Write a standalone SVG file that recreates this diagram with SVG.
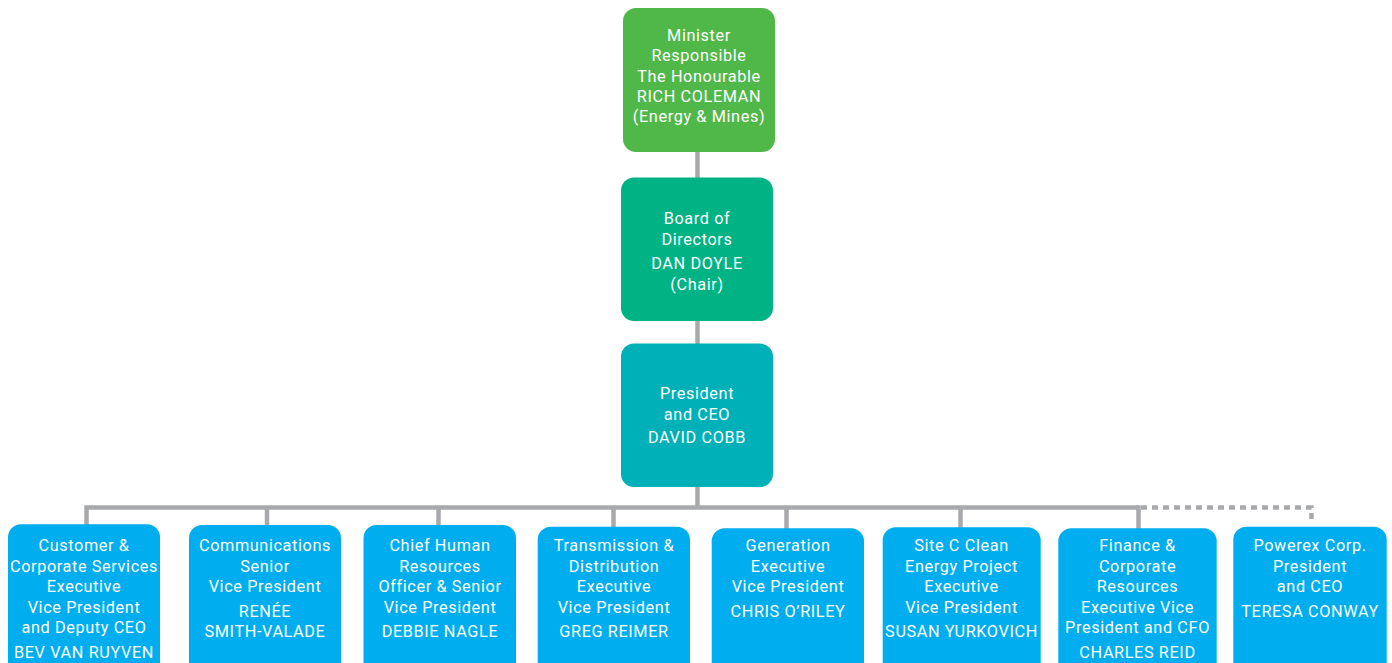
<svg xmlns="http://www.w3.org/2000/svg" width="1392" height="663" viewBox="0 0 1392 663">
<style>
text{font-family:Roboto,"Liberation Sans",sans-serif;font-size:16.3px;font-weight:400;letter-spacing:0.6px;fill:#fff;text-anchor:middle}
.ln{stroke:#a7a9ac;stroke-width:4.5;fill:none}
.dt{stroke:#a7a9ac;stroke-width:4.5;fill:none;stroke-dasharray:6 5}
.b{fill:#00aeef}
</style>
<rect width="1392" height="663" fill="#fff"/>
<g id="connectors">
<line class="ln" x1="697.5" y1="150" x2="697.5" y2="180"/>
<line class="ln" x1="697.5" y1="318" x2="697.5" y2="346"/>
<line class="ln" x1="697.5" y1="484" x2="697.5" y2="507.5"/>
<polyline class="ln" points="86.5,526 86.5,507.5 1138.5,507.5"/>
<line class="ln" x1="267" y1="507.5" x2="267" y2="527"/>
<line class="ln" x1="438.5" y1="507.5" x2="438.5" y2="527"/>
<line class="ln" x1="613.5" y1="507.5" x2="613.5" y2="528"/>
<line class="ln" x1="786.5" y1="507.5" x2="786.5" y2="530"/>
<line class="ln" x1="960.5" y1="507.5" x2="960.5" y2="529"/>
<line class="ln" x1="1138.5" y1="505.25" x2="1138.5" y2="530"/>
<polyline class="dt" points="1141,507.5 1311.5,507.5 1311.5,524"/>
</g>
<g id="minister">
<rect x="623" y="8" width="152" height="144" rx="13" fill="#50b848"/>
<text x="699" y="40.7">Minister</text>
<text x="699" y="61.1">Responsible</text>
<text x="699" y="81.5">The Honourable</text>
<text x="699" y="101.9">RICH COLEMAN</text>
<text x="699" y="122.3">(Energy &amp; Mines)</text>
</g>
<g id="board">
<rect x="621" y="177.5" width="152" height="143.5" rx="13" fill="#00b384"/>
<text x="697" y="224">Board of</text>
<text x="697" y="245">Directors</text>
<text x="697" y="269">DAN DOYLE</text>
<text x="697" y="289.5">(Chair)</text>
</g>
<g id="president">
<rect x="621" y="343.5" width="152" height="143.5" rx="13" fill="#00b0b9"/>
<text x="697" y="399.3">President</text>
<text x="697" y="419.5">and CEO</text>
<text x="697" y="443.3">DAVID COBB</text>
</g>
<g id="customer">
<rect class="b" x="8" y="524.3" width="152" height="160" rx="13"/>
<text x="84" y="551">Customer &amp;</text>
<text x="84" y="571.5">Corporate Services</text>
<text x="84" y="592">Executive</text>
<text x="84" y="612.5">Vice President</text>
<text x="84" y="633">and Deputy CEO</text>
<text x="84" y="657.7">BEV VAN RUYVEN</text>
</g>
<g id="communications">
<rect class="b" x="189" y="525" width="152" height="160" rx="13"/>
<text x="265" y="551">Communications</text>
<text x="265" y="571.5">Senior</text>
<text x="265" y="592">Vice President</text>
<text x="265" y="617.3">RENÉE</text>
<text x="265" y="636.7">SMITH-VALADE</text>
</g>
<g id="hr">
<rect class="b" x="363.5" y="525" width="152.5" height="160" rx="13"/>
<text x="440" y="551">Chief Human</text>
<text x="440" y="571.5">Resources</text>
<text x="440" y="592">Officer &amp; Senior</text>
<text x="440" y="612.5">Vice President</text>
<text x="440" y="636.7">DEBBIE NAGLE</text>
</g>
<g id="transmission">
<rect class="b" x="537.7" y="526.7" width="152.3" height="160" rx="13"/>
<text x="614" y="551">Transmission &amp;</text>
<text x="614" y="571.5">Distribution</text>
<text x="614" y="592">Executive</text>
<text x="614" y="612.5">Vice President</text>
<text x="614" y="636.7">GREG REIMER</text>
</g>
<g id="generation">
<rect class="b" x="711.7" y="528.3" width="152.3" height="160" rx="13"/>
<text x="788" y="551">Generation</text>
<text x="788" y="571.5">Executive</text>
<text x="788" y="592">Vice President</text>
<text x="788" y="617.3">CHRIS O’RILEY</text>
</g>
<g id="sitec">
<rect class="b" x="882.7" y="527.3" width="158" height="160" rx="13"/>
<text x="961.5" y="551">Site C Clean</text>
<text x="961.5" y="571.5">Energy Project</text>
<text x="961.5" y="592">Executive</text>
<text x="961.5" y="612.5">Vice President</text>
<text x="961.5" y="636.7">SUSAN YURKOVICH</text>
</g>
<g id="finance">
<rect class="b" x="1058.3" y="528.3" width="158.4" height="160" rx="13"/>
<text x="1137.5" y="551">Finance &amp;</text>
<text x="1137.5" y="571.5">Corporate</text>
<text x="1137.5" y="592">Resources</text>
<text x="1137.5" y="612.5">Executive Vice</text>
<text x="1137.5" y="633">President and CFO</text>
<text x="1137.5" y="657.7">CHARLES REID</text>
</g>
<g id="powerex">
<rect class="b" x="1233.3" y="526.7" width="153.4" height="160" rx="13"/>
<text x="1310" y="551">Powerex Corp.</text>
<text x="1310" y="571.5">President</text>
<text x="1310" y="592">and CEO</text>
<text x="1310" y="617.3">TERESA CONWAY</text>
</g>
</svg>
